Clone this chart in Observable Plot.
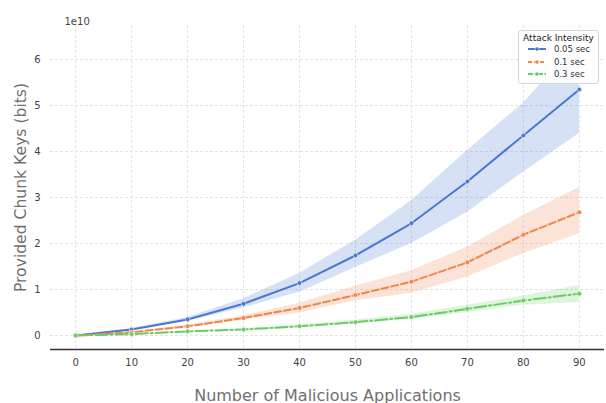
<!DOCTYPE html>
<html>
<head>
<meta charset="utf-8">
<script src="https://cdn.jsdelivr.net/npm/d3@7"></script>
<script src="https://cdn.jsdelivr.net/npm/@observablehq/plot@0.6"></script>
<style>
  body { margin: 0; background: #fff; }
  #wrap { position: relative; width: 606px; height: 403px; font-family: "DejaVu Sans", sans-serif; }
  #legend { position: absolute; left: 518px; top: 30px; width: 81px; height: 54px; border: 1px solid #d6d6d6; border-radius: 3px; background: rgba(255,255,255,0.85); box-sizing: border-box; font-size: 8.5px; color: #333; }
  #legend .title { text-align: center; margin-top: 2px; font-size: 9px; color: #222; }
  #legend .row { display: flex; align-items: center; height: 12.5px; padding-left: 9px; }
  #legend .row svg { margin-right: 8px; }
</style>
</head>
<body>
<div id="wrap"></div>
<script>
const xs = [0, 10, 20, 30, 40, 50, 60, 70, 80, 90];
const seriesNames = ["0.05 sec", "0.1 sec", "0.3 sec"];
const colors = ["#4878d0", "#ee854a", "#6acc64"];
const dashes = ["none", "7,3", "12,3,2,3"];
// values in units of 1e10 bits
const mean005 = [0.00, 0.13, 0.35, 0.69, 1.14, 1.74, 2.44, 3.35, 4.35, 5.35];
const lo005   = [0.00, 0.11, 0.31, 0.60, 0.94, 1.48, 2.00, 2.68, 3.55, 4.39];
const hi005   = [0.00, 0.15, 0.39, 0.80, 1.35, 2.07, 2.93, 4.02, 5.05, 6.40];
const mean01  = [0.00, 0.07, 0.20, 0.38, 0.60, 0.88, 1.17, 1.59, 2.19, 2.68];
const lo01    = [0.00, 0.06, 0.17, 0.34, 0.49, 0.75, 0.92, 1.27, 1.78, 2.21];
const hi01    = [0.00, 0.08, 0.23, 0.43, 0.70, 1.07, 1.41, 1.92, 2.61, 3.22];
const mean03  = [0.00, 0.03, 0.09, 0.13, 0.20, 0.29, 0.40, 0.58, 0.76, 0.91];
const lo03    = [0.00, 0.02, 0.08, 0.11, 0.17, 0.25, 0.35, 0.50, 0.66, 0.72];
const hi03    = [0.00, 0.04, 0.10, 0.15, 0.23, 0.34, 0.46, 0.66, 0.86, 1.09];
const yTicks = [0, 1, 2, 3, 4, 5, 6];
const xTicks = [0, 10, 20, 30, 40, 50, 60, 70, 80, 90];

const SCALE = 1e10;
const means = [mean005, mean01, mean03];
const los = [lo005, lo01, lo03];
const his = [hi005, hi01, hi03];
const table = [];
seriesNames.forEach((s, i) => {
  xs.forEach((x, j) => {
    table.push({ series: s, x, y: means[i][j] * SCALE, lo: los[i][j] * SCALE, hi: his[i][j] * SCALE });
  });
});
const yMin = -0.304 * SCALE, yMax = 6.74 * SCALE;

const marks = [
  Plot.gridX(xTicks, { stroke: "#e3e3e3", strokeOpacity: 1, strokeDasharray: "3,2" }),
  Plot.gridY(yTicks.map(d => d * SCALE), { stroke: "#e3e3e3", strokeOpacity: 1, strokeDasharray: "3,2" }),
];
seriesNames.forEach((s, i) => {
  const d = table.filter(r => r.series === s);
  marks.push(Plot.areaY(d, { x: "x", y1: "lo", y2: "hi", fill: colors[i], fillOpacity: 0.22 }));
});
seriesNames.forEach((s, i) => {
  const d = table.filter(r => r.series === s);
  marks.push(Plot.line(d, { x: "x", y: "y", stroke: colors[i], strokeWidth: 2, strokeDasharray: dashes[i] }));
  marks.push(Plot.dot(d, { x: "x", y: "y", r: 2.3, fill: colors[i], stroke: "white", strokeWidth: 0.5 }));
});
marks.push(
  Plot.ruleY([yMin], { stroke: "#333", strokeWidth: 1.3 }),
  Plot.axisX({ ticks: xTicks, tickSize: 0, tickPadding: 9, fontSize: 10, color: "#444", label: null }),
  Plot.axisY({ ticks: yTicks.map(d => d * SCALE), tickSize: 0, tickPadding: 10, fontSize: 10, color: "#444", label: null, tickFormat: d => String(d / SCALE) }),
  Plot.text(["1e10"], { frameAnchor: "top-left", dx: 14, dy: -8, fontSize: 10, fill: "#444" }),
  Plot.text(["Number of Malicious Applications"], { frameAnchor: "bottom", dy: 51, fontSize: 16, fill: "#707070", textAnchor: "middle" }),
  Plot.text(["Provided Chunk Keys (bits)"], { frameAnchor: "left", dx: -30, rotate: -90, fontSize: 15.6, fill: "#707070", textAnchor: "middle" })
);

const chart = Plot.plot({
  width: 606,
  height: 403,
  marginLeft: 50,
  marginRight: 2,
  marginTop: 25,
  marginBottom: 54,
  style: { fontFamily: "DejaVu Sans, sans-serif", background: "white" },
  x: { domain: [-4.5, 94.5] },
  y: { domain: [yMin, yMax] },
  marks
});
const wrap = document.getElementById("wrap");
wrap.appendChild(chart);

const legend = document.createElement("div");
legend.id = "legend";
let html = '<div class="title">Attack Intensity</div>';
seriesNames.forEach((s, i) => {
  html += `<div class="row"><svg width="18" height="6"><line x1="0" y1="3" x2="18" y2="3" stroke="${colors[i]}" stroke-width="2" stroke-dasharray="${i === 0 ? 'none' : (i === 1 ? '4,2' : '5,1.5,2,1.5')}"/><circle cx="9" cy="3" r="2" fill="${colors[i]}" stroke="white" stroke-width="0.5"/></svg><span>${s}</span></div>`;
});
legend.innerHTML = html;
wrap.appendChild(legend);
</script>
</body>
</html>
